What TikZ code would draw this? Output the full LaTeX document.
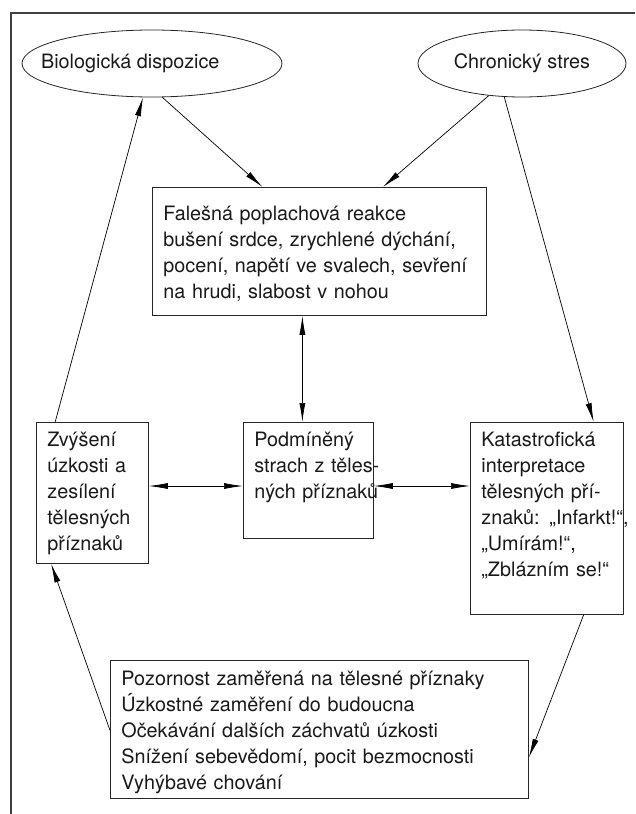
\documentclass[tikz,border=0pt]{standalone}
\usepackage{fontspec}
\setmainfont{TeX Gyre Heros}
\usepackage{xcolor}
\usepackage{tikz}
\usetikzlibrary{shapes.geometric, arrows.meta, positioning, calc}

\begin{document}
\begin{tikzpicture}[x=1pt, y=-1pt,
  font=\fontsize{19.8}{26}\selectfont,
  kruh/.style={draw=black!85, line width=0.8pt, ellipse, minimum height=67pt, inner sep=0pt, text=black!90},
  krabice/.style={draw=black!85, line width=0.8pt, rectangle, anchor=north west, align=left,
    inner xsep=11pt, inner ysep=0pt, text height=24pt, text=black!90},
  sipka/.style={line width=0.7pt, -{Latex[length=19pt,width=6pt]}},
  obe/.style={line width=0.7pt, {Latex[length=19pt,width=6pt]}-{Latex[length=19pt,width=6pt]}}]
\useasboundingbox (0,0) rectangle (635,814);

% Frame
\draw[black!75, line width=1.2pt] (635,13) -- (11,13) -- (11,814);

% Causes
\node[kruh, minimum width=260pt] (bio) at (152,63.5) {};
\node[anchor=west, text=black!90] (biotext) at ([xshift=16pt]bio.west) {Biologická dispozice};
\node[kruh, minimum width=208pt] (chron) at (522,63.5) {Chronický stres};

% Alarm reaction
\node[krabice, text width=312pt, text height=33pt, text depth=95pt] (falesna) at (152,187)
  {Falešná poplachová reakce\\ bušení srdce, zrychlené dýchání,\\ pocení, napětí ve svalech, sevření\\ na hrudi, slabost v nohou};

% Middle row
\node[krabice, text width=90pt, text depth=117pt] (zvyseni) at (36,422)
  {Zvýšení\\ úzkosti a\\ zesílení\\ tělesných\\ příznaků};
\node[krabice, text width=108pt, text depth=92pt] (strach) at (243,422)
  {Podmíněný\\ \mbox{strach z těles-}\\ \mbox{ných příznaků}};
\node[krabice, text width=131pt, text depth=168pt] (katastrofa) at (470,422)
  {Katastrofická\\ interpretace\\ tělesných pří-\\ \mbox{znaků: „Infarkt!“,}\\ „Umírám!“,\\ „Zblázním se!“};

% Consequences
\node[krabice, text width=396pt, text height=25pt, text depth=113pt] (pozornost) at (110,660)
  {Pozornost zaměřená na tělesné příznaky\\ Úzkostné zaměření do budoucna\\ Očekávání dalších záchvatů úzkosti\\ Snížení sebevědomí, pocit bezmocnosti\\ Vyhýbavé chování};

% Arrows
\draw[sipka] (bio.-73) -- ($(falesna.north west)!0.33!(falesna.north east)$);
\draw[sipka] (chron.-136) -- ($(falesna.north west)!0.69!(falesna.north east)$);
\draw[sipka] ($(zvyseni.north west)!0.17!(zvyseni.north east)$) -- (bio.-105);
\draw[sipka] (chron.-118) -- ($(katastrofa.north west)!0.804!(katastrofa.north east)$);
\coordinate (osa) at ($(strach.north west)!0.454!(strach.north east)$);
\draw[obe] (falesna.south -| osa) -- (osa);
\coordinate (stred) at ($(strach.north west)!0.548!(strach.south west)$);
\draw[obe] (zvyseni.east |- stred) -- (stred);
\draw[obe] (strach.east |- stred) -- (katastrofa.west |- stred);
\draw[sipka] ($(katastrofa.south west)!0.739!(katastrofa.south east)$) -- ($(pozornost.north east)!0.703!(pozornost.south east)$);
\draw[sipka] ($(pozornost.north west)!0.507!(pozornost.south west)$) -- ($(zvyseni.south west)!0.134!(zvyseni.south east)$);
\end{tikzpicture}
\end{document}
